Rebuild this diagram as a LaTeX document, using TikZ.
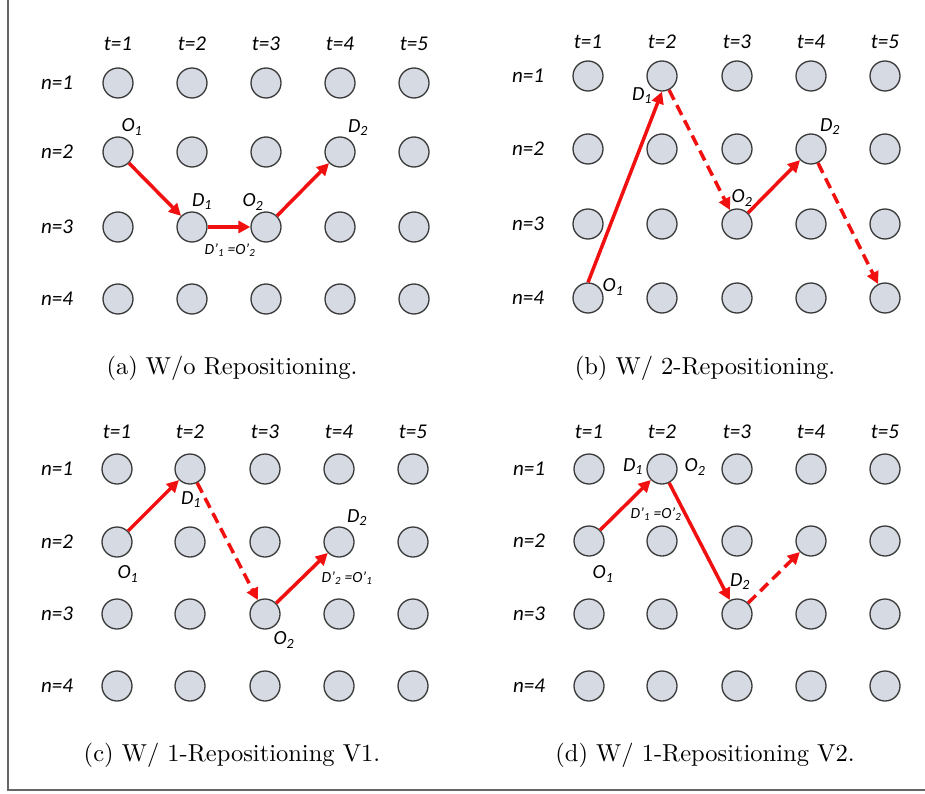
\documentclass[tikz,border=0pt]{standalone}
\usepackage{fontspec}
\setsansfont{Carlito}
\newfontfamily\capfont{lmroman10-regular}[Extension=.otf]
\usetikzlibrary{arrows.meta}
\definecolor{dotfill}{HTML}{D5DAE3}
\definecolor{dotline}{HTML}{3A3A3A}
\definecolor{arrred}{HTML}{F01010}
\definecolor{framegray}{HTML}{666666}
\tikzset{
  dot/.style={circle,minimum size=30pt,inner sep=0pt,draw=dotline,fill=dotfill,line width=1.3pt},
  gridlab/.style={font=\fontsize{21}{24}\selectfont\sffamily\itshape,inner sep=0pt},
  odlab/.style={font=\fontsize{20}{23}\selectfont\sffamily\itshape,inner sep=0pt},
  smlab/.style={font=\fontsize{15.5}{18}\selectfont\sffamily\itshape,inner sep=0pt},
  caplab/.style={font=\fontsize{24.5}{28}\selectfont\capfont,inner sep=0pt},
  trip/.style={draw=arrred,line width=3.5pt,-{Triangle[length=12pt,width=12pt]}},
  tripdash/.style={trip,dash pattern=on 11pt off 6pt},
  framel/.style={draw=framegray,line width=2pt}
}
\begin{document}
\begin{tikzpicture}[x=1pt,y=-1pt]
\useasboundingbox (0,0) rectangle (925,794);
\coordinate (f1) at (8,0);
\coordinate (f2) at (8,790);
\coordinate (f3) at (925,790);
\draw[framel] (f1) -- (f2) -- (f3);

% panel a
\foreach \x [count=\i] in {118,192,266,340,414} {
  \node[gridlab] (at\i) at (\x,44) {t=\i};
  \foreach \y [count=\j] in {83,152,227,299} {\node[dot] (a\i\j) at (\x,\y) {};}
}
\foreach \y [count=\j] in {83,152,227,299} {\node[gridlab] (an\j) at (57,\y) {n=\j};}
% panel b
\foreach \x [count=\i] in {588,662,737,811,885} {
  \node[gridlab] (bt\i) at (\x,42) {t=\i};
  \foreach \y [count=\j] in {76,149,224,298} {\node[dot] (b\i\j) at (\x,\y) {};}
}
\foreach \y [count=\j] in {76,149,224,298} {\node[gridlab] (bn\j) at (528,\y) {n=\j};}
% panel c
\foreach \x [count=\i] in {117,190,265,339,413} {
  \node[gridlab] (ct\i) at (\x,432) {t=\i};
  \foreach \y [count=\j] in {469,542,614,686} {\node[dot] (c\i\j) at (\x,\y) {};}
}
\foreach \y [count=\j] in {469,542,614,686} {\node[gridlab] (cn\j) at (57,\y) {n=\j};}
% panel d
\foreach \x [count=\i] in {589,662,737,811,885} {
  \node[gridlab] (dt\i) at (\x,432) {t=\i};
  \foreach \y [count=\j] in {469,541,614,686} {\node[dot] (d\i\j) at (\x,\y) {};}
}
\foreach \y [count=\j] in {469,541,614,686} {\node[gridlab] (dn\j) at (529,\y) {n=\j};}

% arrows a
\draw[trip] (a12) -- (a23);
\draw[trip] (a23) -- (a33);
\draw[trip] (a33) -- (a42);
\node[odlab] (aO1) at (132,127) {O\textsubscript{1}};
\node[odlab] (aD1) at (202,202) {D\textsubscript{1}};
\node[odlab] (aO2) at (253,202) {O\textsubscript{2}};
\node[odlab] (aD2) at (358,128) {D\textsubscript{2}};
\node[smlab] (aeq) at (230,250) {D’\textsubscript{1} =O’\textsubscript{2}};

% arrows b
\draw[trip] (b14.north) -- (b21.south);
\draw[tripdash] (b21) -- (b33);
\draw[trip] (b33) -- (b42);
\draw[tripdash] (b42) -- (b54);
\node[odlab] (bD1) at (642,96) {D\textsubscript{1}};
\node[odlab] (bO1) at (613,287) {O\textsubscript{1}};
\node[odlab] (bO2) at (742,198) {O\textsubscript{2}};
\node[odlab] (bD2) at (830,127) {D\textsubscript{2}};

% arrows c
\draw[trip] (c12) -- (c21);
\draw[tripdash] (c21) -- (c33);
\draw[trip] (c33) -- (c42);
\node[odlab] (cD1) at (191,500) {D\textsubscript{1}};
\node[odlab] (cO1) at (128,574) {O\textsubscript{1}};
\node[odlab] (cD2) at (357,518) {D\textsubscript{2}};
\node[smlab] (ceq) at (347,578) {D’\textsubscript{2} =O’\textsubscript{1}};
\node[odlab] (cO2) at (284,640) {O\textsubscript{2}};

% arrows d
\draw[trip] (d12) -- (d21);
\draw[trip] (d21) -- (d33);
\draw[tripdash] (d33) -- (d42);
\node[odlab] (dD1) at (633,467) {D\textsubscript{1}};
\node[odlab] (dO2) at (695,467) {O\textsubscript{2}};
\node[smlab] (deq) at (656,514) {D’\textsubscript{1} =O’\textsubscript{2}};
\node[odlab] (dO1) at (603,574) {O\textsubscript{1}};
\node[odlab] (dD2) at (740,582) {D\textsubscript{2}};

% captions
\node[caplab] (capa) at (232,368) {(a) W/o Repositioning.};
\node[caplab] (capb) at (705,368) {(b) W/ 2-Repositioning.};
\node[caplab] (capc) at (232,755) {(c) W/ 1-Repositioning V1.};
\node[caplab] (capd) at (705,755) {(d) W/ 1-Repositioning V2.};
\end{tikzpicture}
\end{document}
